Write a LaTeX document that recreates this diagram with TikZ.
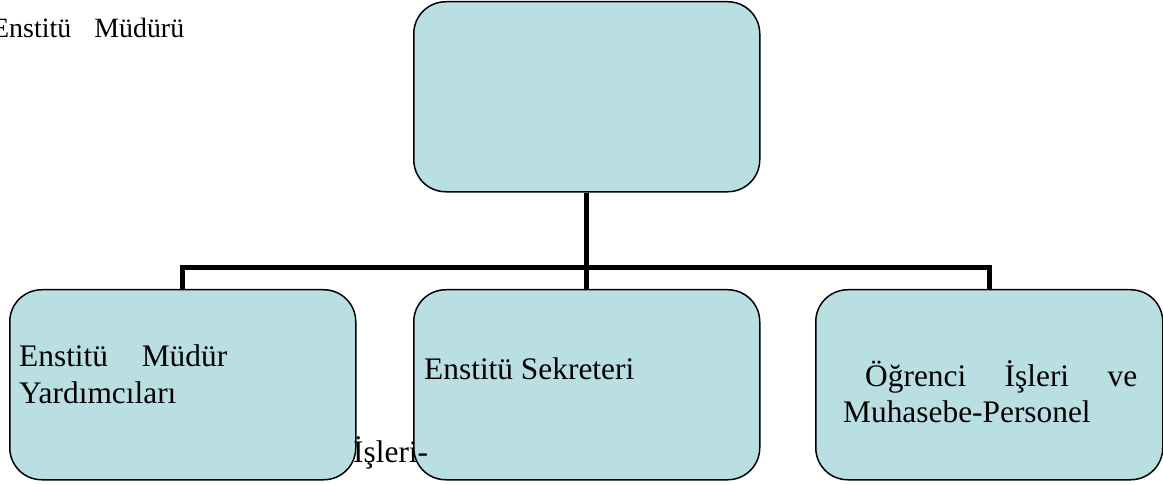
\documentclass[tikz,border=0pt]{standalone}
\usepackage{fontspec}
\setmainfont{Liberation Serif}
\usetikzlibrary{backgrounds}
\definecolor{boxfill}{HTML}{B9DFE3}
\begin{document}
\begin{tikzpicture}[x=1bp,y=-1bp,
  orgbox/.style={draw=black, line width=1.5bp, fill=boxfill, rounded corners=32bp,
    minimum width=346bp, minimum height=190bp, inner sep=0pt, anchor=north west},
  conn/.style={draw=black, line width=5bp, line join=miter},
  lbl/.style={inner sep=0pt, anchor=base west, font=\fontsize{31.5}{36}\selectfont},
  toplbl/.style={inner sep=0pt, anchor=base west, font=\fontsize{28}{33}\selectfont}]
\useasboundingbox (0,0) rectangle (1163,485);
% boxes
\node[orgbox] (top) at (413,1) {};
\node[orgbox] (yard) at (9,289) {};
\node[orgbox] (sek) at (413,289) {};
\node[orgbox, minimum width=347bp] (ogr) at (815,289) {};
\coordinate (bus) at (587,268);
% connectors behind the boxes
\begin{scope}[on background layer]
\draw[conn] (top.south) -- (sek.north);
\draw[conn] (yard.north) -- (yard.north |- bus) -- (ogr.north |- bus) -- (ogr.north);
\end{scope}
% texts
\node[toplbl] (mudur) at (-8,38) {\makebox[192bp][s]{Enstitü Müdürü}};
\node[lbl] (yard1) at (19,367) {\makebox[208bp][s]{Enstitü Müdür}};
\node[lbl] (yard2) at (19,403) {Yardımcıları};
\node[lbl] (sek1) at (424,380) {Enstitü Sekreteri};
\node[lbl] (ogr1) at (865,387) {\makebox[272bp][s]{Öğrenci İşleri ve}};
\node[lbl] (ogr2) at (843,422) {Muhasebe-Personel};
\node[lbl] (isleri) at (353,462) {İşleri-};
\end{tikzpicture}
\end{document}
